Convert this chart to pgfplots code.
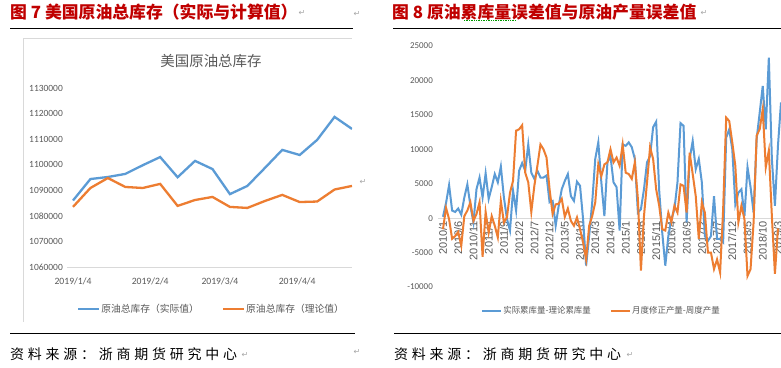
\documentclass[border=0pt]{standalone}
\usepackage{fontspec}
\usepackage{pgfplots}
\pgfplotsset{compat=1.18}
\setmainfont{Carlito}
\newfontfamily\cjk{Noto Sans CJK SC}
\newfontfamily\lib{Liberation Sans}
\newfontfamily\dej{DejaVu Sans}
\definecolor{xblue}{RGB}{91,155,213}
\definecolor{xorange}{RGB}{237,125,49}
\definecolor{xred}{RGB}{192,0,0}
\definecolor{xgray}{RGB}{89,89,89}
\definecolor{xline}{RGB}{217,217,217}
\newcommand{\ret}{{\dej\fontsize{8}{8}\selectfont\color{gray!70}↵}}
\newlength{\sk}\setlength{\sk}{3.8bp}
\newcommand{\src}{资\kern\sk 料\kern\sk 来\kern\sk 源\kern\sk ：\kern\sk 浙\kern\sk 商\kern\sk 期\kern\sk 货\kern\sk 研\kern\sk 究\kern\sk 中\kern\sk 心}
\begin{document}
\begin{tikzpicture}
\path[use as bounding box, fill=white] (0bp,0bp) rectangle (781bp,368bp);
% titles
\node[anchor=west, inner sep=0pt, text=xred, font=\cjk\bfseries\fontsize{16.9}{18}\selectfont] at (10bp,355.5bp) {图 7 美国原油总库存（实际与计算值）};
\node[anchor=west, inner sep=0pt, text=xred, font=\cjk\bfseries\fontsize{16.9}{18}\selectfont] at (392bp,355.5bp) {图 8 原油累库量误差值与原油产量误差值};
\draw[green!60!black, densely dotted, line width=0.7bp] (464bp,348bp) -- (516bp,348bp);
% rules
\draw[line width=0.9bp] (10bp,340bp) -- (353bp,340bp);
\draw[line width=0.9bp] (393bp,340bp) -- (781bp,340bp);
\draw[line width=0.9bp] (10bp,35bp) -- (355bp,35bp);
\draw[line width=0.9bp] (394bp,35bp) -- (781bp,35bp);
% chart box
\draw[xline, line width=0.8bp] (23bp,46bp) -- (23bp,330bp) -- (352bp,330bp);
\node[font=\cjk\fontsize{14.5}{16}\selectfont, text=xgray] at (211bp,307bp) {美国原油总库存};
% sources
\node[anchor=west, inner sep=0pt, font=\cjk\fontsize{14}{16}\selectfont] at (10bp,14bp) {\src};
\node[anchor=west, inner sep=0pt, font=\cjk\fontsize{14}{16}\selectfont] at (394bp,14bp) {\src};
% return marks
\node[inner sep=0pt] at (302bp,355bp) {\ret};
\node[inner sep=0pt] at (357bp,354bp) {\ret};
\node[inner sep=0pt] at (704bp,355bp) {\ret};
\node[inner sep=0pt] at (363bp,186bp) {\ret};
\node[inner sep=0pt] at (245bp,13bp) {\ret};
\node[inner sep=0pt] at (357bp,16bp) {\ret};
\node[inner sep=0pt] at (630bp,13bp) {\ret};

% left chart
\begin{axis}[
  at={(67bp,101bp)}, anchor=south west, scale only axis,
  width=285bp, height=179bp,
  xmin=-2.4, xmax=112, ymin=1060000, ymax=1130000,
  axis x line*=bottom, axis y line*=left,
  x axis line style={draw=xline, line width=0.8bp},
  y axis line style={draw=none},
  major tick length=0pt,
  scaled y ticks=false, scaled x ticks=false,
  /pgf/number format/assume math mode=true,
  xtick={0,31,59,90}, xticklabels={2019/1/4,2019/2/4,2019/3/4,2019/4/4},
  ytick={1060000,1070000,1080000,1090000,1100000,1110000,1120000,1130000},
  yticklabels={1060000,1070000,1080000,1090000,1100000,1110000,1120000,1130000},
  x tick label style={font=\fontsize{9.7}{10}\selectfont, text=xgray, anchor=north, inner sep=0pt, yshift=-11bp},
  y tick label style={font=\fontsize{9.5}{10}\selectfont, text=xgray, anchor=east, inner sep=0pt, xshift=-4bp},
  legend style={at={(axis description cs:0.505,-0.235)}, anchor=center, draw=none, fill=none,
    legend columns=2, font=\cjk\fontsize{9.8}{10}\selectfont, text=xgray, inner sep=0pt,
    nodes={inner sep=1bp, text=xgray},
    /tikz/every even column/.append style={column sep=22bp}},
  legend image code/.code={\draw[#1, line width=2.3bp] (0bp,0bp) -- (21bp,0bp);},
]
\addplot[xblue, line width=2.3bp] coordinates {
(0,1086000) (7,1094400) (14,1095200) (21,1096400) (28,1099800) (35,1103000)
(42,1095100) (49,1101500) (56,1098300) (63,1088500) (70,1091700) (77,1098700)
(84,1105800) (91,1103800) (98,1109700) (105,1118700) (112,1114000)};
\addlegendentry{原油总库存（实际值）}
\addplot[xorange, line width=2.3bp] coordinates {
(0,1083500) (7,1090900) (14,1094800) (21,1091300) (28,1090900) (35,1092500)
(42,1083900) (49,1086200) (56,1087400) (63,1083500) (70,1083100) (77,1085800)
(84,1088200) (91,1085400) (98,1085600) (105,1090300) (112,1091700)};
\addlegendentry{原油总库存（理论值）}
\end{axis}

% right chart
\begin{axis}[
  at={(438bp,81bp)}, anchor=south west, scale only axis,
  width=343bp, height=241bp,
  xmin=-1.64, xmax=111, ymin=-10000, ymax=25000,
  axis x line*=middle, axis y line*=left,
  x axis line style={draw=xline, line width=0.8bp},
  y axis line style={draw=none},
  hide obscured x ticks=false, hide obscured y ticks=false,
  major tick length=0pt,
  scaled y ticks=false, scaled x ticks=false,
  /pgf/number format/assume math mode=true,
  xtick={0,5,...,110},
  xticklabels={2010/1,2010/6,2010/11,2011/4,2011/9,2012/2,2012/7,2012/12,2013/5,2013/10,2014/3,2014/8,2015/1,2015/6,2015/11,2016/4,2016/9,2017/2,2017/7,2017/12,2018/5,2018/10,2019/3},
  ytick={-10000,-5000,0,5000,10000,15000,20000,25000},
  yticklabels={-10000,-5000,0,5000,10000,15000,20000,25000},
  x tick label style={font=\lib\fontsize{11}{11}\selectfont, text=xgray, yshift=-3bp, rotate=90, anchor=east, inner sep=0pt},
  y tick label style={font=\fontsize{9}{9}\selectfont, text=xgray, anchor=east, inner sep=0pt, xshift=-5bp},
  legend style={at={(axis description cs:0.475,-0.0996)}, anchor=center, draw=none, fill=none,
    legend columns=2, font=\cjk\fontsize{8.5}{10}\selectfont, text=xgray, inner sep=0pt,
    nodes={inner sep=1bp, text=xgray},
    /tikz/every even column/.append style={column sep=18bp}},
  legend image code/.code={\draw[#1, line width=2.2bp] (0bp,0bp) -- (19bp,0bp);},
]
\addplot[xblue, line width=2bp] coordinates {
(0,200) (1,2200) (2,4800) (3,1100) (4,900) (5,1400) (6,500) (7,3000) (8,4900) (9,1800)
(10,-600) (11,4200) (12,5900) (13,3000) (14,6500) (15,2800) (16,4500) (17,6400) (18,5200) (19,7500)
(20,3000) (21,-100) (22,-1800) (23,4000) (24,1100) (25,6900) (26,8000) (27,6900) (28,10700) (29,6600)
(30,5700) (31,6900) (32,5900) (33,5900) (34,6200) (35,2300) (36,2500) (37,-1100) (38,1800) (39,4200)
(40,5400) (41,6400) (42,3200) (43,2500) (44,5300) (45,4700) (46,-100) (47,-6900) (48,-2600) (49,2300)
(50,8600) (51,11000) (52,5200) (53,300) (54,8100) (55,9000) (56,5200) (57,4500) (58,-1800) (59,10700)
(60,10500) (61,11000) (62,10300) (63,8600) (64,800) (65,1300) (66,4200) (67,8100) (68,9000) (69,13200)
(70,14000) (71,4000) (72,-2100) (73,-6900) (74,-2600) (75,-150) (76,1300) (77,5200) (78,13800) (79,13400)
(80,-600) (81,8600) (82,11200) (83,7100) (84,8600) (85,5200) (86,-2600) (87,-3300) (88,-2600) (89,3200)
(90,-3000) (91,-3000) (92,-3500) (93,11700) (94,12900) (95,10000) (96,2000) (97,3700) (98,4200) (99,300)
(100,7400) (101,4500) (102,800) (103,11500) (104,15300) (105,19200) (106,12900) (107,23300) (108,8600) (109,1800)
(110,10500) (111,16800)};
\addlegendentry{实际累库量-理论累库量}
\addplot[xorange, line width=2bp] coordinates {
(0,-1600) (1,1500) (2,-150) (3,-3000) (4,-2600) (5,-2000) (6,-4000) (7,300) (8,1100) (9,2300)
(10,-400) (11,600) (12,2300) (13,-5600) (14,900) (15,-2100) (16,300) (17,-1100) (18,-2800) (19,2500)
(20,-600) (21,100) (22,3700) (23,5400) (24,12700) (25,12900) (26,13500) (27,6600) (28,5200) (29,900)
(30,4700) (31,7600) (32,10700) (33,10000) (34,8800) (35,4200) (36,600) (37,2000) (38,2100) (39,2800)
(40,200) (41,1400) (42,-400) (43,-1100) (44,100) (45,-1600) (46,-3500) (47,-6000) (48,-1100) (49,300)
(50,2300) (51,7800) (52,6100) (53,7800) (54,8100) (55,10000) (56,8100) (57,8800) (58,7600) (59,10700)
(60,6600) (61,6400) (62,5700) (63,8100) (64,2800) (65,-7600) (66,300) (67,5200) (68,10300) (69,8600)
(70,4200) (71,1800) (72,-1600) (73,-1800) (74,800) (75,-600) (76,1800) (77,800) (78,4900) (79,4700)
(80,800) (81,9500) (82,6400) (83,3200) (84,-3000) (85,2300) (86,800) (87,-5000) (88,-5000) (89,-7400)
(90,-6000) (91,-7900) (92,1300) (93,14600) (94,14100) (95,11000) (96,7600) (97,-600) (98,1800) (99,-150)
(100,-8400) (101,-7400) (102,-600) (103,12000) (104,12900) (105,15800) (106,7400) (107,9800) (108,300) (109,-8100)
(110,-1500)};
\addlegendentry{月度修正产量-周度产量}
\end{axis}
\end{tikzpicture}
\end{document}
